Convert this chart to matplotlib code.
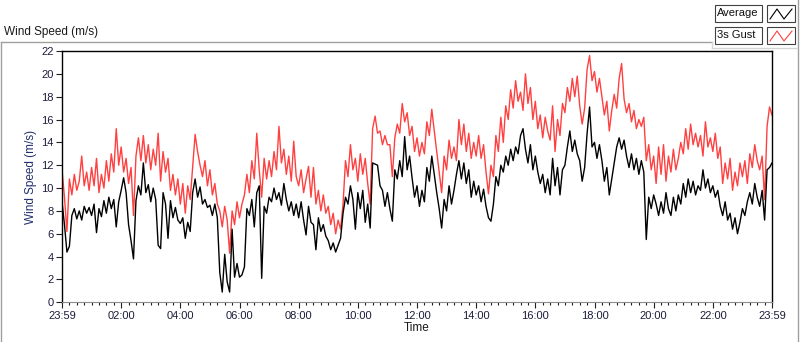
import numpy as np
import matplotlib.pyplot as plt
from matplotlib.lines import Line2D
from matplotlib.patches import Rectangle
from matplotlib.ticker import MultipleLocator, FixedLocator

plt.rcParams["font.family"] = ["Liberation Sans", "DejaVu Sans"]

# 5-minute samples, one row per hour from 23:59
avg_speed = [
    8.8, 6.8, 4.4, 4.9, 7.6, 8.2, 7.3, 8.0, 7.2, 8.4, 7.8, 8.3,
    7.6, 8.6, 6.1, 8.2, 7.5, 8.9, 7.8, 9.2, 8.2, 9.0, 6.6, 8.8,
    9.8, 10.9, 9.6, 6.8, 5.4, 3.8, 8.9, 10.2, 9.4, 12.2, 9.6, 10.3,
    8.8, 10.0, 9.0, 5.0, 4.7, 9.6, 8.6, 5.6, 8.9, 7.4, 8.3, 7.2,
    6.9, 7.4, 5.6, 7.0, 6.2, 9.6, 10.8, 9.2, 10.1, 8.6, 9.0, 8.3,
    8.5, 7.6, 8.6, 7.4, 2.6, 0.9, 4.2, 1.8, 0.9, 6.4, 2.2, 3.4,
    2.2, 2.4, 3.1, 8.2, 7.6, 9.0, 6.6, 9.6, 10.2, 2.1, 8.4, 7.8,
    9.2, 8.8, 10.0, 9.0, 9.6, 8.5, 10.4, 9.0, 8.0, 8.8, 7.6, 8.6,
    7.4, 8.8, 7.2, 5.9, 8.4, 7.0, 6.8, 4.6, 7.4, 6.2, 6.8, 5.8,
    5.4, 4.6, 5.2, 4.4, 5.0, 5.6, 7.8, 9.2, 8.6, 10.2, 9.0, 6.4,
    9.6, 8.2, 9.8, 7.0, 8.6, 6.5, 12.2, 12.1, 12.0, 10.2, 9.8, 8.4,
    9.6, 8.2, 7.1, 11.6, 10.8, 12.4, 11.0, 14.5, 11.6, 12.8, 10.9, 9.2,
    10.2, 8.4, 9.8, 8.8, 11.8, 10.6, 12.8, 11.2, 9.6, 8.2, 6.5, 9.0,
    8.0, 10.2, 8.6, 9.8, 11.2, 12.4, 10.8, 12.2, 10.4, 11.6, 9.2, 10.6,
    9.4, 10.2, 8.8, 9.9, 8.4, 7.4, 7.1, 8.6, 11.0, 10.2, 12.0, 11.4,
    12.8, 12.0, 13.4, 12.4, 13.6, 13.0, 14.6, 15.2, 13.4, 12.2, 13.8, 11.6,
    12.8, 11.4, 10.4, 11.2, 9.6, 10.8, 9.4, 12.6, 10.2, 11.8, 9.4, 11.6,
    12.0, 13.6, 15.0, 13.2, 14.2, 13.0, 12.4, 10.6, 11.8, 14.8, 17.1, 13.6,
    14.0, 12.6, 13.8, 12.4, 10.6, 11.8, 9.4, 10.8, 12.2, 13.6, 14.4, 13.4,
    14.2, 12.8, 11.8, 13.0, 11.6, 12.6, 11.2, 12.4, 11.4, 5.5, 9.2, 8.2,
    9.4, 8.6, 7.6, 8.8, 7.8, 9.6, 8.2, 7.6, 9.2, 8.0, 9.4, 8.6,
    10.4, 9.2, 10.8, 9.6, 10.6, 9.4, 10.2, 9.8, 11.6, 10.0, 10.8, 9.6,
    10.2, 9.2, 9.8, 8.4, 7.6, 8.8, 7.2, 7.8, 6.4, 7.4, 6.0, 7.0,
    8.2, 7.6, 8.8, 9.6, 8.6, 10.4, 9.2, 8.4, 9.8, 7.2, 11.6, 11.8,
    12.2,
]

gust_speed = [
    11.6, 9.2, 6.2, 10.8, 9.4, 11.2, 9.8, 10.6, 12.8, 10.2, 11.4, 9.8,
    11.8, 10.2, 12.6, 9.6, 11.2, 10.0, 12.4, 10.6, 13.0, 11.4, 15.2, 12.0,
    13.6, 11.4, 12.6, 10.4, 11.8, 7.6, 12.8, 14.4, 12.4, 14.6, 12.2, 13.8,
    11.6, 13.4, 12.0, 14.8, 10.6, 13.2, 11.4, 12.6, 9.8, 11.2, 9.4, 10.8,
    8.6, 10.4, 7.8, 10.2, 9.0, 11.8, 14.7, 13.2, 12.0, 11.0, 12.4, 10.2,
    11.6, 9.4, 10.4, 8.6, 8.0, 6.6, 8.4, 7.2, 4.3, 8.0, 6.8, 8.8,
    7.4, 8.6, 9.4, 11.2, 9.6, 12.4, 10.8, 14.8, 11.6, 9.2, 12.6, 10.8,
    12.4, 11.0, 13.2, 11.6, 15.4, 12.2, 13.4, 11.2, 12.8, 10.6, 14.1, 11.0,
    10.2, 11.6, 9.6, 10.8, 11.9, 9.2, 11.8, 8.6, 9.8, 8.0, 9.4, 7.8,
    8.4, 6.8, 7.8, 6.0, 7.2, 6.4, 8.6, 12.4, 11.0, 13.8, 11.6, 12.6,
    10.6, 13.0, 11.2, 12.6, 10.4, 8.6, 15.2, 16.3, 14.8, 15.0, 13.8, 14.6,
    13.8, 13.8, 11.0, 14.4, 15.6, 14.8, 17.4, 15.8, 16.6, 14.6, 15.4, 13.2,
    14.4, 12.8, 14.0, 13.0, 15.8, 14.6, 16.9, 15.0, 13.2, 11.4, 9.6, 12.8,
    11.6, 14.2, 12.6, 13.6, 12.4, 16.0, 13.8, 15.6, 13.2, 14.8, 12.6, 14.0,
    12.8, 14.6, 12.6, 13.8, 11.4, 9.5, 12.0, 11.0, 14.6, 13.2, 16.2, 14.0,
    17.2, 16.0, 18.6, 17.0, 19.4, 17.6, 18.4, 16.8, 20.0, 17.4, 18.8, 16.0,
    17.6, 15.2, 16.4, 14.4, 16.2, 15.0, 14.2, 17.2, 13.2, 16.0, 14.6, 17.4,
    16.6, 18.8, 17.6, 19.6, 18.0, 19.8, 17.2, 15.6, 17.0, 20.4, 21.6, 19.4,
    20.2, 18.4, 19.6, 18.0, 16.4, 17.6, 15.0, 16.8, 18.2, 17.0, 19.6, 20.9,
    17.8, 16.6, 17.4, 15.8, 16.8, 15.2, 16.0, 15.4, 16.2, 12.4, 13.8, 11.6,
    12.8, 10.4, 13.6, 11.2, 13.8, 10.6, 12.8, 11.4, 13.4, 11.6, 12.6, 14.0,
    13.0, 15.2, 13.4, 15.6, 13.8, 14.8, 13.6, 14.6, 12.8, 15.8, 13.6, 14.4,
    13.2, 14.8, 12.6, 13.6, 10.4, 12.2, 10.8, 12.6, 9.8, 11.4, 10.2, 12.2,
    11.0, 12.4, 10.4, 13.0, 11.8, 13.8, 12.4, 11.6, 12.8, 9.0, 15.4, 17.1,
    16.4,
]

tick_labels = ["23:59", "02:00", "04:00", "06:00", "08:00", "10:00", "12:00",
               "14:00", "16:00", "18:00", "20:00", "22:00", "23:59"]
legend_names = ["Average", "3s Gust"]
legend_colors = ["black", "#ff4040"]

W, H = 800, 342
minutes = np.arange(len(avg_speed)) * 5

fig = plt.figure(figsize=(W / 100, H / 100), dpi=100)
ax = fig.add_axes([62 / W, 1 - 302.3 / H, 710 / W, 251.3 / H])

ax.plot(minutes, gust_speed, color=legend_colors[1], linewidth=1)
ax.plot(minutes, avg_speed, color=legend_colors[0], linewidth=1)

ax.set_xlim(0, 1440)
ax.set_ylim(0, 22)
ax.yaxis.set_major_locator(MultipleLocator(2))
ax.xaxis.set_major_locator(FixedLocator(np.arange(0, 1441, 120)))
ax.xaxis.set_minor_locator(MultipleLocator(15))
ax.set_xticklabels(tick_labels)

lab_col = "#1c1c3c"
ax.tick_params(axis="both", which="major", labelsize=8, colors="#202020",
               labelcolor=lab_col, length=4, width=0.8)
ax.tick_params(axis="x", which="minor", length=2.5, width=0.8, colors="#202020")
ax.tick_params(axis="y", pad=2)
ax.tick_params(axis="x", pad=2)

for s in ["left", "top", "right"]:
    ax.spines[s].set_color("black")
    ax.spines[s].set_linewidth(1)
ax.spines["bottom"].set_color("#8c8c8c")

ax.set_xlabel("Time", fontsize=8.5, color="#1a1a1a", labelpad=1)
ax.set_ylabel("Wind Speed (m/s)", fontsize=8.5, color="#1f2f6b", labelpad=3)

fig.text(4 / W, 1 - 32 / H, "Wind Speed (m/s)", fontsize=8.5,
         color="#1a1a1a", va="center", ha="left")


def px(x, y):
    return x / W, 1 - y / H


# outer frame of the chart and the legend panel
frame = "#a0a0a0"
for (x0, y0), (x1, y1), c in [
    ((1, 42), (712, 42), frame),
    ((1, 42), (1, 342), frame),
    ((797.5, 0), (797.5, 342), frame),
    ((712, 42), (712, 48), "#d4d4d4"),
    ((712, 48), (797, 48), "#d4d4d4"),
]:
    a, b = px(x0, y0)
    c2, d = px(x1, y1)
    fig.add_artist(Line2D([a, c2], [b, d], color=c, linewidth=1))

# legend boxes
for i, (name, col) in enumerate(zip(legend_names, legend_colors)):
    top = 5 + i * 22
    bx, by = px(715, top + 17)
    fig.add_artist(Rectangle((bx, by), 47 / W, 17 / H, transform=fig.transFigure,
                             facecolor="white", edgecolor="#404040", linewidth=0.8))
    fig.text(717 / W, 1 - (top + 8.5) / H, name, fontsize=8, color="#101010",
             va="center", ha="left")
    ix, iy = px(767, top + 17)
    fig.add_artist(Rectangle((ix, iy), 28 / W, 17 / H, transform=fig.transFigure,
                             facecolor="white", edgecolor="#404040", linewidth=0.8))
    zx = [770, 777, 784, 792]
    zy = [top + 14, top + 4, top + 14, top + 4]
    fx = [v / W for v in zx]
    fy = [1 - v / H for v in zy]
    fig.add_artist(Line2D(fx, fy, color=col, linewidth=0.8))

fig.savefig("out.png", dpi=100)
